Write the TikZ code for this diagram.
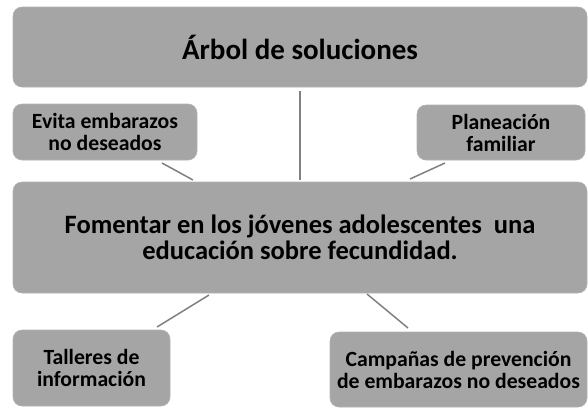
\documentclass[tikz,border=0pt]{standalone}
\usepackage{fontspec}
\setmainfont{Carlito}
\definecolor{boxgray}{HTML}{A5A5A5}
\definecolor{linegray}{HTML}{808080}
\begin{document}
\begin{tikzpicture}[x=1pt,y=1pt,
  box/.style={fill=boxgray, draw=boxgray!85!white, line width=0.6pt, rounded corners=9pt, align=center, inner sep=0pt, font=\bfseries},
  small/.style={font=\bfseries\fontsize{21.7}{22}\selectfont},
  conn/.style={draw=linegray, line width=1.5pt}]
\useasboundingbox (0,0) rectangle (588,-408);
\node[box, minimum width=574, minimum height=80, font=\bfseries\fontsize{29}{32}\selectfont] (top) at (300,-47) {Árbol de soluciones};
\node[box, small, minimum width=184, minimum height=56] (evita) at (105,-132) {Evita embarazos\\no deseados};
\node[box, small, minimum width=168, minimum height=55] (plan) at (501,-132.5) {Planeación\\familiar};
\node[box, minimum width=574, minimum height=111, font=\bfseries\fontsize{26.5}{26}\selectfont] (main) at (300,-237.5) {Fomentar en los jóvenes adolescentes \ una\\educación sobre fecundidad.};
\node[box, small, minimum width=157, minimum height=76] (talleres) at (91.5,-368) {Talleres de\\información};
\node[box, small, minimum width=257, minimum height=75] (camp) at (458.5,-369.5) {Campañas de prevención\\de embarazos no deseados};
\coordinate (v1) at (300,-91);
\coordinate (v2) at (300,-180);
\coordinate (e1) at (162,-163);
\coordinate (e2) at (193,-180);
\coordinate (p1) at (445,-163);
\coordinate (p2) at (410,-179);
\coordinate (t1) at (209,-295);
\coordinate (t2) at (157,-327);
\coordinate (c1) at (367,-294);
\coordinate (c2) at (408,-328);
\draw[conn] (v1) -- (v2);
\draw[conn] (e1) -- (e2);
\draw[conn] (p1) -- (p2);
\draw[conn] (t1) -- (t2);
\draw[conn] (c1) -- (c2);
\end{tikzpicture}
\end{document}
